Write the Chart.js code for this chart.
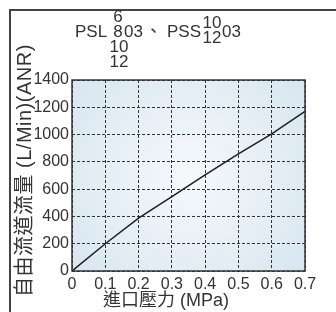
<!DOCTYPE html>
<html>
<head>
<meta charset="utf-8">
<script src="https://cdn.jsdelivr.net/npm/chart.js@4.4.0/dist/chart.umd.min.js"></script>
<style>
  html, body { margin: 0; padding: 0; background: #fff; }
  #wrap { width: 336px; height: 312px; position: relative; }
</style>
</head>
<body>
<div id="wrap"><canvas id="flowChart"></canvas></div>
<script>
// data
const pressures = [0, 0.1, 0.2, 0.3, 0.4, 0.5, 0.6, 0.7]; // MPa
const flows = [0, 200, 388, 546, 705, 858, 1005, 1170];   // L/Min (ANR)
const yTicks = [0, 200, 400, 600, 800, 1000, 1200, 1400];
const xTicks = ["0", "0.1", "0.2", "0.3", "0.4", "0.5", "0.6", "0.7"];

const TXT = "#333";
const FONT = "'Liberation Sans', 'Noto Sans CJK TC', sans-serif";
const NARROW = "'Liberation Sans Narrow', 'Liberation Sans', sans-serif";

// background, frame, title and axis names
const decor = {
  id: "decor",
  beforeDraw(chart) {
    const { ctx, chartArea: a } = chart;
    ctx.save();
    const g = ctx.createRadialGradient(
      (a.left + a.right) / 2, (a.top + a.bottom) / 2, 5,
      (a.left + a.right) / 2, (a.top + a.bottom) / 2, (a.right - a.left) * 0.75
    );
    g.addColorStop(0, "#f4f8fb");
    g.addColorStop(1, "#d3e3ee");
    ctx.fillStyle = g;
    ctx.fillRect(a.left, a.top, a.right - a.left, a.bottom - a.top);
    ctx.restore();
  },
  afterDraw(chart) {
    const { ctx, chartArea: a } = chart;
    ctx.save();
    // plot frame
    ctx.strokeStyle = "#333";
    ctx.lineWidth = 1.5;
    ctx.strokeRect(a.left, a.top, a.right - a.left, a.bottom - a.top);
    // outer box
    ctx.strokeStyle = "#444";
    ctx.lineWidth = 2;
    ctx.strokeRect(10, 10, 340, 320);

    ctx.fillStyle = TXT;
    ctx.textBaseline = "alphabetic";
    ctx.font = "17px " + FONT;
    ctx.textAlign = "left";
    ctx.fillText("PSL", 75, 37);
    ctx.textAlign = "center";
    ctx.fillText("6", 118, 22);
    ctx.fillText("8", 118, 37);
    ctx.fillText("10", 119, 52);
    ctx.fillText("12", 119, 67);
    ctx.textAlign = "left";
    ctx.fillText("03", 124, 37);
    ctx.fillText("、", 145, 37);
    ctx.fillText("PSS", 167, 37);
    ctx.textAlign = "center";
    ctx.fillText("10", 212, 28);
    ctx.fillText("12", 212, 43);
    ctx.textAlign = "left";
    ctx.fillText("03", 222, 37);

    // x axis name
    ctx.font = "18px " + FONT;
    ctx.fillText("進口壓力 (MPa)", 103, 306);

    // y axis name
    ctx.translate(25, 297);
    ctx.rotate(-Math.PI / 2);
    ctx.font = "20px " + FONT;
    ctx.letterSpacing = "0.5px";
    ctx.textBaseline = "middle";
    ctx.fillText("自由流道流量 (L/Min)(ANR)", 0, 0);
    ctx.restore();
  }
};

new Chart(document.getElementById("flowChart"), {
  type: "line",
  data: {
    datasets: [{
      data: pressures.map((p, i) => ({ x: p, y: flows[i] })),
      borderColor: "#1e1e1e",
      borderWidth: 1.5,
      pointRadius: 0,
      tension: 0,
      fill: false
    }]
  },
  options: {
    responsive: true,
    maintainAspectRatio: false,
    animation: false,
    layout: { padding: { left: 0, top: 80, right: 31, bottom: 0 } },
    plugins: {
      legend: { display: false },
      tooltip: { enabled: false }
    },
    scales: {
      x: {
        type: "linear",
        min: 0,
        max: 0.7,
        afterBuildTicks: s => { s.ticks = pressures.map(v => ({ value: v })); },
        afterFit: s => { s.height = 41; },
        ticks: {
          color: TXT,
          padding: 4,
          maxRotation: 0,
          autoSkip: false,
          font: { family: NARROW, size: 16 },
          callback: (v, i) => xTicks[i]
        },
        grid: { color: "#333", lineWidth: 1, drawTicks: false },
        border: { display: false, dash: [3, 2] }
      },
      y: {
        min: 0,
        max: 1400,
        afterBuildTicks: s => { s.ticks = yTicks.map(v => ({ value: v })); },
        afterFit: s => { s.width = 72; },
        ticks: {
          color: TXT,
          padding: 3,
          autoSkip: false,
          font: { family: NARROW, size: 16 },
          callback: v => String(v)
        },
        grid: { color: "#333", lineWidth: 1, drawTicks: false },
        border: { display: false, dash: [3, 2] }
      }
    }
  },
  plugins: [decor]
});
</script>
</body>
</html>
